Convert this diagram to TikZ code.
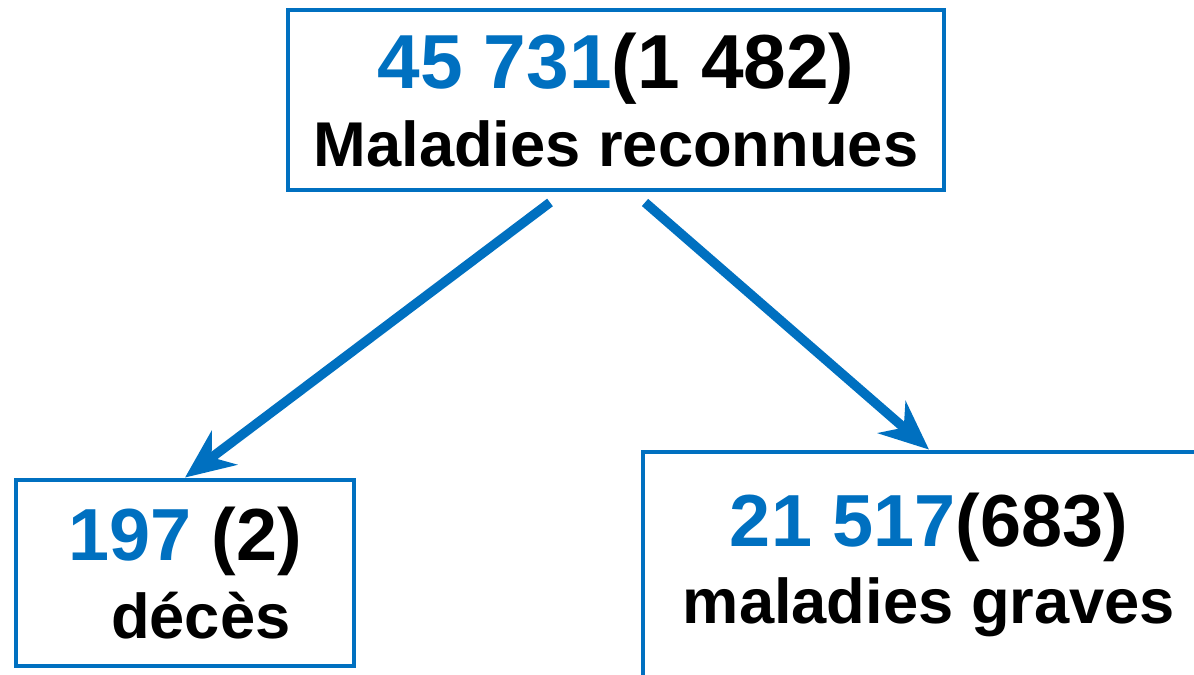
\documentclass[tikz,border=0pt]{standalone}
\usepackage{fontspec}
\setmainfont{Liberation Sans}
\usetikzlibrary{arrows.meta}
\usetikzlibrary{positioning}
\definecolor{bleu}{RGB}{0,112,192}
\newcommand{\nombre}[2]{{\fontsize{#1}{22}\selectfont #2}}

\begin{document}
\begin{tikzpicture}
	\useasboundingbox (0,0) rectangle (11.94,-6.74);
	\clip (0,0) rectangle (11.94,-6.74);
	\begin{scope}[every node/.style={rectangle, draw=bleu, line width=1.4pt, align=center, inner sep=0pt,
	              font=\bfseries\fontsize{18}{22}\selectfont}]
		\node[minimum width=6.56cm, minimum height=1.80cm] (tot) at (6.16,-1.00)
			{\nombre{21.8}{{\color{bleu}45 731}(1 482)}\\ Maladies reconnues};
		\node[minimum width=3.38cm, minimum height=1.86cm] (deces) at (1.85,-5.73)
			{\nombre{21}{{\color{bleu}197} (2)}\\ \hspace*{0.5em}décès};
		\node[minimum width=5.72cm, minimum height=2.26cm] (graves) at (9.29,-5.65)
			{\nombre{21}{{\color{bleu}21 517}(683)}\\ maladies graves};
	\end{scope}
	
	\coordinate (g) at ([xshift=-0.66cm, yshift=-0.1cm]tot.south);
	\coordinate (d) at ([xshift=0.29cm, yshift=-0.1cm]tot.south);
	
	\begin{scope}[>={Stealth[length=14pt, width=12pt, inset=4.5pt]},
	              every edge/.style={draw=bleu, line width=2.7pt}]
		\path (g) edge[->] (deces.north);
		\path (d) edge[->] (graves.north);
	\end{scope}
\end{tikzpicture}
\end{document}
